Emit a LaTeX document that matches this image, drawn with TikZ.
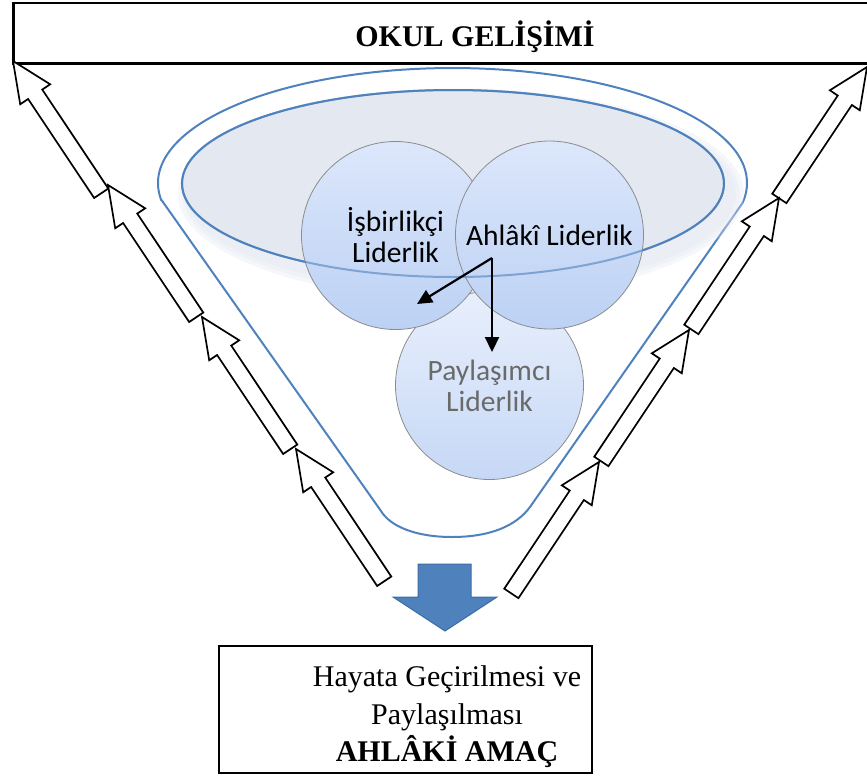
\documentclass[tikz,border=0pt]{standalone}
\usepackage{fontspec}
\setmainfont{Liberation Serif}
\newfontfamily\calibri{Carlito}
\usepackage{tikz}
\usetikzlibrary{arrows.meta}

\definecolor{funnelblue}{HTML}{4F81BD}
\definecolor{ovalfill}{HTML}{E4E8F1}
\definecolor{circtop}{HTML}{DCE7FB}
\definecolor{circbot}{HTML}{BCD1F4}
\definecolor{paytop}{HTML}{E8EFFC}
\definecolor{paybot}{HTML}{C6D8F6}
\definecolor{circedge}{HTML}{8C8C8C}
\definecolor{paytext}{HTML}{6A6A6A}
\definecolor{downblue}{HTML}{4F81BD}
\definecolor{downedge}{HTML}{3C6CA5}

\begin{document}
\begin{tikzpicture}[x=1pt,y=-1pt]
  \tikzstyle{hollow}=[draw=black,fill=white,line width=1.7pt,line join=miter]
  \tikzstyle{lider}=[circle,draw=circedge,line width=0.8pt,inner sep=0pt,minimum size=188pt,top color=circtop,bottom color=circbot,align=center,font=\calibri\fontsize{29.5}{31}\selectfont]
  \tikzstyle{flow}=[line width=2.2pt,-{Triangle[length=15pt,width=14pt]}]
  \useasboundingbox (0,0) rectangle (867,776);

  % top box
  \draw[line width=2.5pt] (13.5,3) rectangle (880,63.5);
  \node[anchor=base,font=\bfseries\fontsize{30}{36}\selectfont] (okul) at (475,47) {OKUL GELİŞİMİ};

  % funnel
  \draw[funnelblue,line width=2pt] (161.5,200) -- (381,511)
    .. controls (390,526) and (415,537) .. (452,537)
    .. controls (490,537) and (516,526) .. (530,507) -- (742.5,203)
    arc[start angle=10,end angle=-188.5,x radius=294.5,y radius=115] -- cycle;

  % oval with glow
  \foreach \g in {12,8,4}
    \fill[ovalfill,opacity=0.35] (461,194) ellipse [x radius={271+\g},y radius={93.5+\g}];
  \draw[funnelblue,line width=2pt,fill=ovalfill] (453,183.5) ellipse [x radius=271,y radius=93.5];

  % circles
  \node[lider,top color=paytop,bottom color=paybot,text=paytext] (pay) at (489.5,385.5) {Paylaşımcı\\Liderlik};
  \node[lider] (isb) at (395.5,235.5) {İşbirlikçi\\Liderlik};
  \node[lider] (ahl) at (549.5,235) {Ahlâkî Liderlik};

  % oval line seen through the circles
  \draw[funnelblue,line width=2pt,opacity=0.6] (453,183.5) ellipse [x radius=271,y radius=93.5];

  % arrows between circles
  \coordinate (fork) at (492,258);
  \coordinate (toIsb) at (417,304);
  \coordinate (toPay) at (492,352);
  \draw[flow] (fork) -- (toIsb);
  \draw[flow] (fork) -- (toPay);

  % hollow arrows, left side
  \foreach \tx/\ty in {13/61,108/185,202/317,296/449}{
    \begin{scope}[shift={(\tx,\ty)},rotate=-56.3]
      \draw[hollow] (0,0) -- (40,18) -- (40,8.5) -- (159,8.5) -- (159,-8.5) -- (40,-8.5) -- (40,-18) -- cycle;
    \end{scope}}

  % hollow arrows, right side
  \foreach \tx/\ty in {867/67,779/198,689/330,599/462}{
    \begin{scope}[shift={(\tx,\ty)},rotate=-123.7]
      \draw[hollow] (0,0) -- (40,18) -- (40,8.5) -- (158,8.5) -- (158,-8.5) -- (40,-8.5) -- (40,-18) -- cycle;
    \end{scope}}

  % down arrow
  \draw[fill=downblue,draw=downedge,line width=1pt] (418,564) -- (471,564) -- (471,597) -- (497,597) -- (445,631) -- (393,597) -- (418,597) -- cycle;

  % bottom box
  \draw[line width=2pt] (218.5,645.5) rectangle (592,773);
  \node[align=center,font=\fontsize{30}{37.5}\selectfont] (amac) at (447,717) {Hayata Geçirilmesi ve\\Paylaşılması\\\textbf{AHLÂKİ AMAÇ}};
\end{tikzpicture}
\end{document}
